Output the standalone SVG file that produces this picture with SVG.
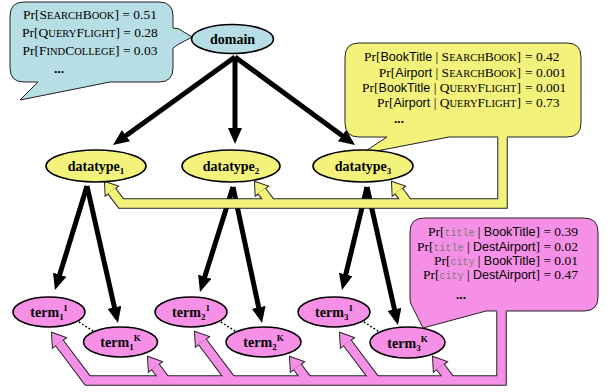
<svg xmlns="http://www.w3.org/2000/svg" width="611" height="392" viewBox="0 0 611 392">
<defs>
<style>
.t{font-family:"Liberation Serif",serif;font-size:13.5px;fill:#000}
.sc{font-size:10.5px}
.a{font-family:"Liberation Sans",sans-serif;font-size:12.5px}
.m{font-family:"Liberation Mono",monospace;font-size:10px;fill:#7a7a7a}
.dots{font-family:"Liberation Serif",serif;font-size:13.5px;font-weight:bold;text-anchor:middle}
.lbl{font-family:"Liberation Serif",serif;font-weight:bold;font-size:14px;text-anchor:middle;fill:#000}
.sub{font-size:9px}
.call{stroke:#222;stroke-width:1}
.node{stroke:#000;stroke-width:1.6}
.blue{fill:#B7DEE4}
.yel{fill:#F3F37C}
.pink{fill:#F690E6}
.arr{stroke:#000;stroke-width:5;fill:none;marker-end:url(#ah)}
.bo{fill:none;stroke:#222;stroke-width:10.5;stroke-linejoin:miter}
.yi{fill:none;stroke:#F3F37C;stroke-width:8.5;stroke-linejoin:miter}
.pi{fill:none;stroke:#F690E6;stroke-width:8.5;stroke-linejoin:miter}
.hb{fill:#222;stroke:#222;stroke-width:2;stroke-linejoin:miter}
.dot{stroke:#000;stroke-width:1.6;stroke-dasharray:1.6 2.2;fill:none}
</style>
<marker id="ah" markerUnits="userSpaceOnUse" markerWidth="16" markerHeight="14" refX="2" refY="7" orient="auto">
<path d="M0,0 L16,7 L0,14 Z" fill="#000"/>
</marker>
</defs>

<g id="callout-domain">
<path class="call blue" d="M24,2 H159 Q173,2 173,16 V28 L179,29 L192,37 L179,44 L173,48 V68 Q173,82 159,82 H110 L20,100 L38,82 H24 Q10,82 10,68 V16 Q10,2 24,2 Z"/>
<text class="t" x="90" y="19" text-anchor="middle">Pr[S<tspan class="sc">EARCH</tspan>B<tspan class="sc">OOK</tspan>] = 0.51</text>
<text class="t" x="90" y="37" text-anchor="middle">Pr[Q<tspan class="sc">UERY</tspan>F<tspan class="sc">LIGHT</tspan>] = 0.28</text>
<text class="t" x="90" y="55" text-anchor="middle">Pr[F<tspan class="sc">IND</tspan>C<tspan class="sc">OLLEGE</tspan>] = 0.03</text>
<text class="dots" x="59" y="73">...</text>
</g>

<g id="callout-datatype">
<path class="call yel" d="M359,43 H567 Q581,43 581,57 V123 Q581,137 567,137 H449 L361,154 L387,137 H359 Q345,137 345,123 V57 Q345,43 359,43 Z"/>
<text class="t" x="521" y="61" text-anchor="end">Pr[<tspan class="a">BookTitle</tspan> | S<tspan class="sc">EARCH</tspan>B<tspan class="sc">OOK</tspan>]</text>
<text class="t" x="525" y="61">= 0.42</text>
<text class="t" x="521" y="77" text-anchor="end">Pr[<tspan class="a">Airport</tspan> | S<tspan class="sc">EARCH</tspan>B<tspan class="sc">OOK</tspan>]</text>
<text class="t" x="525" y="77">= 0.001</text>
<text class="t" x="521" y="92" text-anchor="end">Pr[<tspan class="a">BookTitle</tspan> | Q<tspan class="sc">UERY</tspan>F<tspan class="sc">LIGHT</tspan>]</text>
<text class="t" x="525" y="92">= 0.001</text>
<text class="t" x="521" y="107" text-anchor="end">Pr[<tspan class="a">Airport</tspan> | Q<tspan class="sc">UERY</tspan>F<tspan class="sc">LIGHT</tspan>]</text>
<text class="t" x="525" y="107">= 0.73</text>
<text class="dots" x="399" y="123">...</text>
</g>

<g id="callout-term">
<path class="call pink" d="M424,218 H584 Q598,218 598,232 V297 Q598,311 584,311 H486 L423,328 L411,304 Q410,302 410,298 V232 Q410,218 424,218 Z"/>
<text class="t" x="578" y="236" text-anchor="end">Pr[<tspan class="m">title</tspan> | <tspan class="a">BookTitle</tspan>] = 0.39</text>
<text class="t" x="578" y="251" text-anchor="end">Pr[<tspan class="m">title</tspan> | <tspan class="a">DestAirport</tspan>] = 0.02</text>
<text class="t" x="578" y="265" text-anchor="end">Pr[<tspan class="m">city</tspan> | <tspan class="a">BookTitle</tspan>] = 0.01</text>
<text class="t" x="578" y="279" text-anchor="end">Pr[<tspan class="m">city</tspan> | <tspan class="a">DestAirport</tspan>] = 0.47</text>
<text class="dots" x="461" y="299">...</text>
</g>

<g id="connectors">
<!-- domain to datatypes -->
<path class="arr" d="M235,57 L124.4,136.8"/>
<path class="arr" d="M235,57 L235,130"/>
<path class="arr" d="M235,57 L343.7,136.7"/>
<!-- datatypes to terms -->
<path class="arr" d="M87,186 L59.1,276.6"/>
<path class="arr" d="M87,186 L114.9,309.3"/>
<path class="arr" d="M233,187 L204.2,278.6"/>
<path class="arr" d="M233,187 L259.1,309.3"/>
<path class="arr" d="M367,187 L345.3,276.4"/>
<path class="arr" d="M367,187 L394.9,311.3"/>
<!-- dotted -->
<path class="dot" d="M79,322 L93,331"/>
<path class="dot" d="M221,322 L235,331"/>
<path class="dot" d="M364,322 L378,331"/>

<!-- yellow block arrow: outline layer -->
<g id="yellow-feedback">
<path class="bo" d="M111.6,190.8 L121.1,203.5 H502.5 V137.5"/>
<path class="bo" d="M261.6,190.8 L271.1,203.5"/>
<path class="bo" d="M398.6,190.8 L408.1,203.5"/>
<polygon class="hb" points="105,182 117.6,186.3 105.6,195.3"/>
<polygon class="hb" points="255,182 267.6,186.3 255.6,195.3"/>
<polygon class="hb" points="392,182 404.6,186.3 392.6,195.3"/>
<path class="yi" d="M111.6,190.8 L121.1,203.5 H502.5 V135.3"/>
<path class="yi" d="M261.6,190.8 L271.1,203.5"/>
<path class="yi" d="M398.6,190.8 L408.1,203.5"/>
<polygon class="yel" points="105,182 117.6,186.3 105.6,195.3"/>
<polygon class="yel" points="255,182 267.6,186.3 255.6,195.3"/>
<polygon class="yel" points="392,182 404.6,186.3 392.6,195.3"/>
</g>

<!-- pink block arrow -->
<g id="pink-feedback">
<path class="bo" d="M59.2,342.6 L87.6,380.5 H501.5 V311.5"/>
<path class="bo" d="M155.2,366.6 L165.6,380.5"/>
<path class="bo" d="M202.2,341.6 L231.4,380.5"/>
<path class="bo" d="M297.2,366.6 L307.6,380.5"/>
<path class="bo" d="M347.2,342.6 L375.6,380.5"/>
<path class="bo" d="M440.2,366.6 L450.6,380.5"/>
<polygon class="hb" points="52,333 65.6,337.8 52.8,347.4"/>
<polygon class="hb" points="148,357 161.6,361.8 148.8,371.4"/>
<polygon class="hb" points="195,332 208.6,336.8 195.8,346.4"/>
<polygon class="hb" points="290,357 303.6,361.8 290.8,371.4"/>
<polygon class="hb" points="340,333 353.6,337.8 340.8,347.4"/>
<polygon class="hb" points="433,357 446.6,361.8 433.8,371.4"/>
<path class="pi" d="M59.2,342.6 L87.6,380.5 H501.5 V309.3"/>
<path class="pi" d="M155.2,366.6 L165.6,380.5"/>
<path class="pi" d="M202.2,341.6 L231.4,380.5"/>
<path class="pi" d="M297.2,366.6 L307.6,380.5"/>
<path class="pi" d="M347.2,342.6 L375.6,380.5"/>
<path class="pi" d="M440.2,366.6 L450.6,380.5"/>
<polygon class="pink" points="52,333 65.6,337.8 52.8,347.4"/>
<polygon class="pink" points="148,357 161.6,361.8 148.8,371.4"/>
<polygon class="pink" points="195,332 208.6,336.8 195.8,346.4"/>
<polygon class="pink" points="290,357 303.6,361.8 290.8,371.4"/>
<polygon class="pink" points="340,333 353.6,337.8 340.8,347.4"/>
<polygon class="pink" points="433,357 446.6,361.8 433.8,371.4"/>
</g>
</g>

<g id="domain">
<ellipse class="node blue" cx="232.5" cy="39" rx="41" ry="14.5"/>
<text class="lbl" x="232.5" y="44">domain</text>
</g>
<g id="datatype1">
<ellipse class="node yel" cx="96" cy="166" rx="50" ry="16"/>
<text class="lbl" x="96" y="171">datatype<tspan class="sub" dy="3">1</tspan></text>
</g>
<g id="datatype2">
<ellipse class="node yel" cx="231" cy="166" rx="49" ry="16"/>
<text class="lbl" x="231" y="171">datatype<tspan class="sub" dy="3">2</tspan></text>
</g>
<g id="datatype3">
<ellipse class="node yel" cx="363" cy="166" rx="50" ry="16"/>
<text class="lbl" x="363" y="171">datatype<tspan class="sub" dy="3">3</tspan></text>
</g>
<g id="term1-1">
<ellipse class="node pink" cx="49" cy="312" rx="36" ry="15"/>
<text class="lbl" x="49" y="317">term<tspan class="sub" dy="3">1</tspan><tspan class="sub" dy="-9">1</tspan></text>
</g>
<g id="term1-K">
<ellipse class="node pink" cx="120.5" cy="342" rx="37" ry="15"/>
<text class="lbl" x="120.5" y="347">term<tspan class="sub" dy="3">1</tspan><tspan class="sub" dy="-9">K</tspan></text>
</g>
<g id="term2-1">
<ellipse class="node pink" cx="191" cy="312" rx="36" ry="15"/>
<text class="lbl" x="191" y="317">term<tspan class="sub" dy="3">2</tspan><tspan class="sub" dy="-9">1</tspan></text>
</g>
<g id="term2-K">
<ellipse class="node pink" cx="263.5" cy="342" rx="37.5" ry="15"/>
<text class="lbl" x="263.5" y="347">term<tspan class="sub" dy="3">2</tspan><tspan class="sub" dy="-9">K</tspan></text>
</g>
<g id="term3-1">
<ellipse class="node pink" cx="334" cy="312" rx="36" ry="15"/>
<text class="lbl" x="334" y="317">term<tspan class="sub" dy="3">3</tspan><tspan class="sub" dy="-9">1</tspan></text>
</g>
<g id="term3-K">
<ellipse class="node pink" cx="407.5" cy="342.5" rx="37.5" ry="15.5"/>
<text class="lbl" x="407.5" y="347.5">term<tspan class="sub" dy="3">3</tspan><tspan class="sub" dy="-9">K</tspan></text>
</g>
</svg>
